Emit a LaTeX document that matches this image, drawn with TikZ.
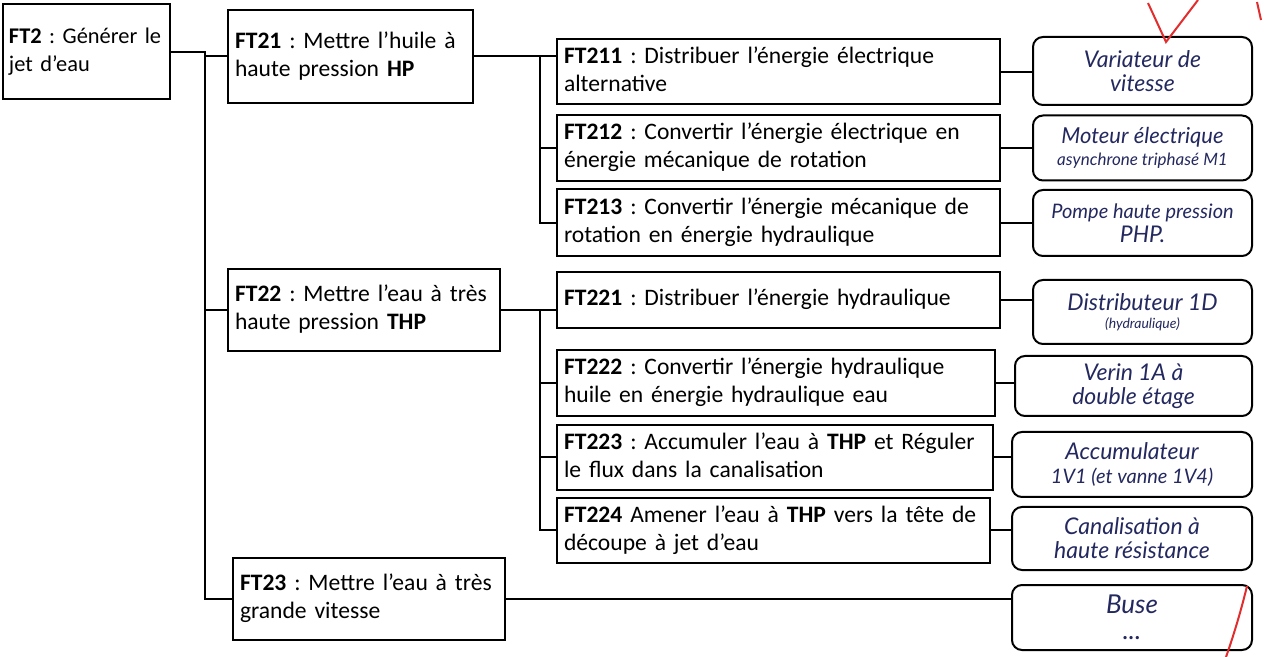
\documentclass[tikz,border=0pt]{standalone}
\usepackage{fontspec}
\setmainfont{Carlito}[WordSpace=0.7]
\newfontfamily\handfont{Lato}
\usepackage{xcolor}
\frenchspacing

\definecolor{inkblue}{RGB}{35,40,95}
\definecolor{redmark}{RGB}{225,45,45}

\newcommand{\twolines}[1]{\begin{tabular}{@{}l@{}}#1\end{tabular}}

\tikzset{
  fbox/.style={draw, line width=1pt, rectangle, align=left, inner xsep=3.5pt, inner ysep=1pt,
    font=\fontsize{11.8}{14}\selectfont},
  hbox/.style={draw, line width=1pt, rounded corners=5pt, align=center, inner sep=2pt,
    text=inkblue, font=\handfont\itshape\fontsize{11.5}{12}\selectfont},
  link/.style={line width=1pt},
}

\begin{document}
\begin{tikzpicture}[x=0.5pt,y=0.5pt,yscale=-1,xscale=1]
\useasboundingbox (0,0) rectangle (1264,657);

%Functions, left column
\node (ft2) [fbox, inner xsep=3pt, text width=77.5pt, minimum height=47.5pt, font=\fontsize{11.2}{14}\selectfont] at (86.5,52) {\twolines{\textbf{FT2} : Générer le\\jet d’eau}};
\node (ft21) [fbox, text width=115.5pt, minimum height=46.5pt] at (350.5,56.5) {\twolines{\textbf{FT21} : Mettre l’huile à\\haute pression \textbf{HP}}};
\node (ft22) [fbox, text width=129pt, minimum height=41pt] at (364,310) {\twolines{\textbf{FT22} : Mettre l’eau à très\\haute pression \textbf{THP}}};
\node (ft23) [fbox, text width=129pt, minimum height=41pt] at (369,599) {\twolines{\textbf{FT23} : Mettre l’eau à très\\grande vitesse}};

%Functions, middle column
\node (ft211) [fbox, text width=214.5pt, minimum height=32.5pt] at (778.5,72) {\twolines{\textbf{FT211} : Distribuer l’énergie électrique\\alternative}};
\node (ft212) [fbox, text width=214.5pt, minimum height=33pt] at (778.5,148) {\twolines{\textbf{FT212} : Convertir l’énergie électrique en\\énergie mécanique de rotation}};
\node (ft213) [fbox, text width=214.5pt, minimum height=33.5pt] at (778.5,223) {\twolines{\textbf{FT213} : Convertir l’énergie mécanique de\\rotation en énergie hydraulique}};
\node (ft221) [fbox, text width=214.5pt, minimum height=28pt] at (778.5,300) {\twolines{\textbf{FT221} : Distribuer l’énergie hydraulique}};
\node (ft222) [fbox, text width=212pt, minimum height=33pt] at (776,383) {\twolines{\textbf{FT222} : Convertir l’énergie hydraulique\\huile en énergie hydraulique eau}};
\node (ft223) [fbox, text width=211pt, minimum height=32.5pt] at (775,457.5) {\twolines{\textbf{FT223} : Accumuler l’eau à \textbf{THP} et Réguler\\le flux dans la canalisation}};
\node (ft224) [fbox, text width=209.5pt, minimum height=32.5pt] at (773.5,530.5) {\twolines{\textbf{FT224} Amener l’eau à \textbf{THP} vers la tête de\\découpe à jet d’eau}};

%Solutions, right column
\node (r1) [hbox, minimum width=109.5pt, minimum height=34pt] at (1142.5,71) {Variateur de\\vitesse};
\node (r2) [hbox, minimum width=109.5pt, minimum height=32.5pt, font=\handfont\itshape\fontsize{11}{11}\selectfont] at (1142.5,148) {Moteur électrique\\{\fontsize{8.5}{9}\selectfont asynchrone triphasé M1}};
\node (r3) [hbox, minimum width=109.5pt, minimum height=33pt] at (1142.5,223) {{\fontsize{10}{11}\selectfont Pompe haute pression}\\PHP.};
\node (r4) [hbox, minimum width=109.5pt, minimum height=32pt] at (1142.5,312) {Distributeur 1D\\[-3pt]{\fontsize{7}{7}\selectfont (hydraulique)}};
\node (r5) [hbox, minimum width=118.5pt, minimum height=30pt] at (1133.5,386) {Verin 1A à\\double étage};
\node (r6) [hbox, minimum width=120pt, minimum height=32.5pt] at (1132,464.5) {Accumulateur\\{\fontsize{10}{11}\selectfont 1V1 (et vanne 1V4)}};
\node (r7) [hbox, minimum width=120pt, minimum height=31.5pt] at (1132,538.5) {Canalisation à\\haute résistance};
\node (r8) [hbox, minimum width=120pt, minimum height=32.5pt, font=\handfont\itshape\fontsize{13}{13}\selectfont] at (1132,617.5) {Buse\\...};

%Trunks
\coordinate (t1) at (205,0);
\coordinate (t2) at (540,0);

%Connectors, first level
\draw [link] (ft2.east) -- (ft2.east -| t1) |- (ft23.west);
\draw [link] (ft21.west -| t1) -- (ft21.west);
\draw [link] (ft22.west -| t1) -- (ft22.west);

%Connectors, second level
\draw [link] (ft21.east) -- (ft21.east -| ft211.west);
\draw [link] (ft21.east -| t2) |- (ft213.west);
\draw [link] (ft212.west -| t2) -- (ft212.west);
\draw [link] (ft22.east) -- (ft22.east -| ft221.west);
\draw [link] (ft22.east -| t2) |- (ft224.west);
\draw [link] (ft222.west -| t2) -- (ft222.west);
\draw [link] (ft223.west -| t2) -- (ft223.west);

%Connectors to solutions
\draw [link] (ft211.east) -- (ft211.east -| r1.west);
\draw [link] (ft212.east) -- (ft212.east -| r2.west);
\draw [link] (ft213.east) -- (ft213.east -| r3.west);
\draw [link] (ft221.east) -- (ft221.east -| r4.west);
\draw [link] (ft222.east) -- (ft222.east -| r5.west);
\draw [link] (ft223.east) -- (ft223.east -| r6.west);
\draw [link] (ft224.east) -- (ft224.east -| r7.west);
\draw [link] (ft23.east) -- (ft23.east -| r8.west);

%Red marks
\draw [redmark, line width=1pt] (1148,3) -- (1166,42) -- (1198,0);
\draw [redmark, line width=1pt] (1257,2) -- (1261,20);
\draw [redmark, line width=1pt] (1247,586) .. controls (1240,615) and (1232,640) .. (1226,657);

\end{tikzpicture}
\end{document}
